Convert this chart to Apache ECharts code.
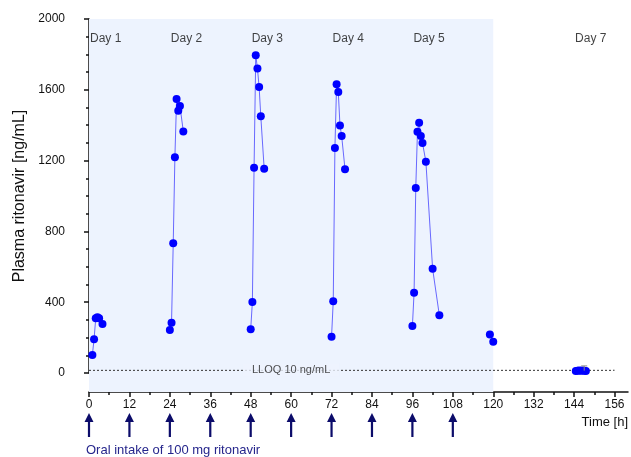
<!DOCTYPE html>
<html>
<head>
<meta charset="utf-8">
<script src="https://cdn.jsdelivr.net/npm/echarts@6/dist/echarts.min.js"></script>
<style>
  html, body { margin: 0; background: #fff; }
  #chart { width: 631px; height: 457px; }
</style>
</head>
<body>
<div id="chart"></div>
<script>
// concentrations [ng/mL] per sampling day, time in hours after first dose
const day1Hours = [1, 1.5, 2, 2.5, 3, 4];
const day1Conc = [102, 190, 309, 315, 310, 277];
const day2Hours = [24, 24.5, 25, 25.5, 26, 26.5, 27, 28];
const day2Conc = [243, 284, 733, 1219, 1548, 1482, 1508, 1365];
const day3Hours = [48, 48.5, 49, 49.5, 50, 50.5, 51, 52];
const day3Conc = [247, 401, 1160, 1795, 1721, 1616, 1450, 1154];
const day4Hours = [72, 72.5, 73, 73.5, 74, 74.5, 75, 76];
const day4Conc = [205, 405, 1271, 1631, 1588, 1399, 1339, 1151];
const day5Hours = [96, 96.5, 97, 97.5, 98, 98.5, 99, 100, 102, 104];
const day5Conc = [265, 454, 1045, 1363, 1414, 1339, 1299, 1194, 589, 326];
const day6Hours = [119, 120];
const day6Conc = [218, 177];
const day7Hours = [144.5, 145, 145.5, 146, 146.5, 147, 147.5];
const day7Conc = [12, 13, 14, 13, 14, 13, 12];
const errHours = [147];
const errLow = [13];
const errHigh = [40];

const doseHours = [0, 12, 24, 36, 48, 60, 72, 84, 96, 108];
const dayNames = ['Day 1', 'Day 2', 'Day 3', 'Day 4', 'Day 5', 'Day 7'];
const dayStartHours = [0, 24, 48, 72, 96, 144];
const xTickHours = [0, 12, 24, 36, 48, 60, 72, 84, 96, 108, 120, 132, 144, 156];
const xMinorHours = [6, 18, 30, 42, 54, 66, 78, 90, 102, 114, 126, 138, 150];
const lloqLevel = 15;
const lloqLabelHour = 60;
const shadeUntil = 120;

const font = 'Liberation Sans, Arial, sans-serif';
const ink = '#111';
const shade = '#edf3fe';

const chart = echarts.init(document.getElementById('chart'));

function pairs(xs, ys) {
  return xs.map((x, i) => [x, ys[i]]);
}

function daySeries(hours, conc, connected) {
  return {
    type: 'line',
    xAxisIndex: 2,
    yAxisIndex: 1,
    data: pairs(hours, conc),
    symbol: 'circle',
    symbolSize: 8,
    itemStyle: { color: '#0000ff' },
    lineStyle: { color: '#6868ff', width: connected ? 1 : 0 },
    z: 5,
  };
}

const hidden = { show: false };

chart.setOption({
  animation: false,
  textStyle: { fontFamily: font },
  grid: [
    { left: 89, right: 3, top: 19, bottom: 65 },
    { left: 89, right: 3, top: 19, bottom: 84 },
    { left: 89, right: 3, top: 413, height: 24 },
  ],
  xAxis: [
    {
      gridIndex: 0,
      type: 'value',
      position: 'bottom',
      min: 0,
      max: 160,
      interval: 12,
      axisLine: { show: true, onZero: false, lineStyle: { color: ink, width: 1.5 } },
      axisTick: { show: true, length: 5, customValues: xTickHours, lineStyle: { color: ink, width: 1.5 } },
      axisLabel: { customValues: xTickHours, color: ink, fontSize: 12, margin: 7 },
      splitLine: hidden,
    },
    {
      gridIndex: 0,
      type: 'value',
      position: 'bottom',
      min: 0,
      max: 160,
      axisLine: hidden,
      axisTick: { show: true, length: 3, customValues: xMinorHours, lineStyle: { color: ink, width: 1.5 } },
      axisLabel: hidden,
      splitLine: hidden,
    },
    { gridIndex: 1, type: 'value', min: 0, max: 160, show: false },
    { gridIndex: 2, type: 'value', min: 0, max: 160, show: false },
  ],
  yAxis: [
    { gridIndex: 0, type: 'value', min: 0, max: 1, show: false },
    {
      gridIndex: 1,
      type: 'value',
      min: 0,
      max: 2000,
      interval: 400,
      offset: 19,
      name: 'Plasma ritonavir [ng/mL]',
      nameLocation: 'middle',
      nameGap: 35,
      nameTextStyle: { fontSize: 16, color: ink },
      axisLine: { show: true, lineStyle: { color: ink, width: 1.5 } },
      axisTick: { show: true, length: 5, lineStyle: { color: ink, width: 1.5 } },
      minorTick: { show: true, splitNumber: 4, length: 3, lineStyle: { color: ink, width: 1.5 } },
      axisLabel: { color: ink, fontSize: 12, margin: 5, formatter: (v) => String(v) },
      splitLine: hidden,
    },
    { gridIndex: 2, type: 'value', min: 0, max: 1, show: false },
  ],
  graphic: [
    { type: 'text', right: 3, top: 416, style: { text: 'Time [h]', font: '13px ' + font, fill: ink } },
    { type: 'text', left: 86, top: 444, style: { text: 'Oral intake of 100 mg ritonavir', font: '13px ' + font, fill: '#26268c' } },
  ],
  series: [
    // shaded dosing period
    {
      type: 'line',
      xAxisIndex: 0,
      yAxisIndex: 0,
      data: [],
      markArea: {
        silent: true,
        itemStyle: { color: shade },
        data: [[{ xAxis: 0 }, { xAxis: shadeUntil }]],
      },
    },
    // LLOQ
    {
      type: 'line',
      xAxisIndex: 2,
      yAxisIndex: 1,
      data: [[0, lloqLevel], [156, lloqLevel]],
      symbol: 'none',
      lineStyle: { color: '#333', width: 1, type: [2, 2] },
      z: 2,
    },
    {
      type: 'scatter',
      xAxisIndex: 2,
      yAxisIndex: 1,
      data: [[lloqLabelHour, lloqLevel]],
      symbolSize: 0,
      label: {
        show: true,
        position: 'inside',
        formatter: 'LLOQ 10 ng/mL',
        color: '#222',
        fontSize: 11,
        backgroundColor: shade,
        padding: [1, 9],
      },
      z: 3,
    },
    daySeries(day1Hours, day1Conc, true),
    daySeries(day2Hours, day2Conc, true),
    daySeries(day3Hours, day3Conc, true),
    daySeries(day4Hours, day4Conc, true),
    daySeries(day5Hours, day5Conc, true),
    daySeries(day6Hours, day6Conc, false),
    daySeries(day7Hours, day7Conc, true),
    {
      type: 'custom',
      xAxisIndex: 2,
      yAxisIndex: 1,
      data: errHours.map((h, i) => [h, errLow[i], errHigh[i]]),
      renderItem: (params, api) => {
        const a = api.coord([api.value(0), api.value(1)]);
        const b = api.coord([api.value(0), api.value(2)]);
        const st = { stroke: '#888', lineWidth: 1 };
        return {
          type: 'group',
          children: [
            { type: 'line', shape: { x1: a[0], y1: a[1], x2: b[0], y2: b[1] }, style: st },
            { type: 'line', shape: { x1: b[0] - 3, y1: b[1], x2: b[0] + 3, y2: b[1] }, style: st },
          ],
        };
      },
      z: 6,
    },
    // day labels
    {
      type: 'scatter',
      xAxisIndex: 2,
      yAxisIndex: 1,
      data: dayStartHours.map((h, i) => ({ value: [h, 1887], name: dayNames[i] })),
      symbolSize: 0,
      label: { show: true, position: 'right', distance: 1, formatter: '{b}', color: ink, fontSize: 12 },
    },
    // dosing arrows
    {
      type: 'scatter',
      xAxisIndex: 3,
      yAxisIndex: 2,
      data: doseHours.map((h) => [h, 0.5]),
      symbol: 'path://M4.5,0 L9,9 L5.6,9 L5.6,24 L3.4,24 L3.4,9 L0,9 Z',
      symbolSize: [9, 24],
      itemStyle: { color: '#0c0c6a', opacity: 1 },
    },
  ],
});
</script>
</body>
</html>
